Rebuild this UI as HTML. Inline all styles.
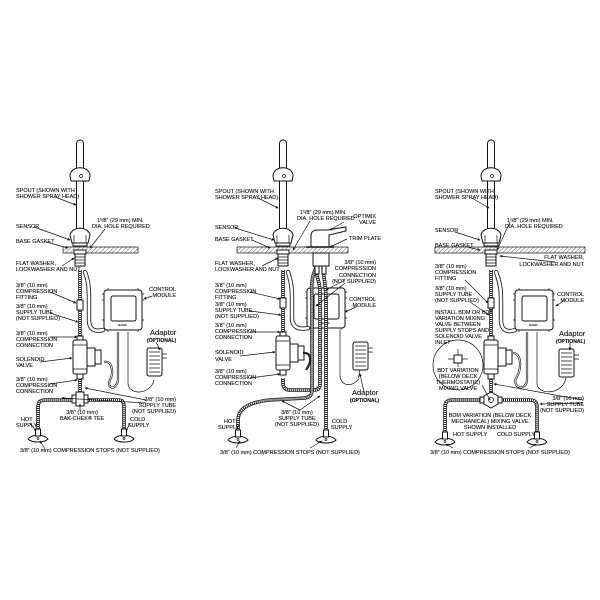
<!DOCTYPE html>
<html><head><meta charset="utf-8"><style>
html,body{margin:0;padding:0;background:#fff;}
svg{display:block;}
text{font-family:"Liberation Sans",sans-serif;font-size:5.5px;fill:#111;stroke:#111;stroke-width:0.12;}
.r{text-anchor:end}.m{text-anchor:middle}
.ad{font-size:7.5px}.b{font-weight:bold;font-size:5px}
.ln{stroke:#111;stroke-width:0.7;fill:none}
.pk{stroke:#111;stroke-width:1;fill:#fff}
.dt{stroke:#222;stroke-width:3.6;fill:none}
.dti{stroke:#fff;stroke-width:2;fill:none;stroke-dasharray:1 1}
.cb{stroke:#222;stroke-width:4.4;fill:none;stroke-linecap:round}
.cbi{stroke:#fff;stroke-width:2.6;fill:none;stroke-linecap:round}
.wr{stroke:#222;stroke-width:2.2;fill:none}
.wri{stroke:#fff;stroke-width:0.8;fill:none}
</style></head><body>
<svg width="600" height="600" viewBox="0 0 600 600" xmlns="http://www.w3.org/2000/svg">
<defs>
<pattern id="h" width="3" height="3" patternUnits="userSpaceOnUse" patternTransform="rotate(45)"><line x1="0" y1="0" x2="0" y2="3" stroke="#222" stroke-width="0.7"/></pattern>
<marker id="a" viewBox="0 0 6 6" refX="5" refY="3" markerWidth="4" markerHeight="4" orient="auto"><path d="M0,0L6,3L0,6z" fill="#111"/></marker>
<g id="spout">
  <path d="M-3.5,3.5 A3.5,3.5 0 0 1 3.5,3.5 L3.5,92 L-3.5,92z" class="pk"/>
  <path d="M-10,36 C-10,25 10,25 10,36 L9,41 L-9,41z" class="pk"/>
  <circle cx="1" cy="36" r="1.5" class="ln"/>
  <path d="M-8,103 L-10,95 C-8,86 8,86 10,95 L8,103z" class="pk"/>
  <path d="M-6,95 L-6,103 M6,95 L6,103" class="ln"/>
  <rect x="-7" y="103" width="14" height="3" class="pk"/>
  <rect x="-6" y="110" width="12" height="4" class="pk"/>
  <rect x="-5" y="114" width="10" height="12" class="pk"/>
  <path d="M-5,117h10M-5,120h10M-5,123h10" class="ln"/>
</g>
<g id="stop">
  <path d="M-10,2 C-6,-3 6,-3 10,2 C6,6 -6,6 -10,2z" class="pk"/>
  <circle cx="0" cy="1.5" r="1" class="ln"/>
  <rect x="-2.5" y="-8" width="5" height="7" class="pk"/>
</g>
<g id="mod">
  <rect x="0" y="0" width="38" height="40" rx="3" class="pk"/>
  <rect x="7" y="6" width="25" height="25" rx="2" class="pk"/>
  <path d="M0,4 L-2,4 M0,10 L-2,10 M38,4 L40,4 M38,10 L40,10 M0,30 L-2,30 M38,30 L40,30 M4,0 L4,-2 M34,0 L34,-2 M4,40 L4,42 M34,40 L34,42" class="ln"/>
  <text x="14" y="36" style="font-size:2.5px">SLOAN</text>
</g>
<g id="adp">
  <rect x="0" y="0" width="15" height="28" rx="2" class="pk"/>
  <path d="M2,4h11M2,8h11M2,12h11M2,16h11M2,20h11M2,24h11" class="ln" stroke-width="0.3"/>
  <path d="M15,6h5M15,10h5" class="ln"/>
</g>
<g id="sol">
  <rect x="-7" y="0" width="14" height="34" rx="2" class="pk"/>
  <path d="M-7,5h14M-7,29h14" class="ln"/>
  <rect x="7" y="8" width="8" height="18" class="pk"/>
  <rect x="15" y="10" width="6" height="14" class="pk"/>
  <rect x="-3" y="-4" width="6" height="4" class="pk"/>
  <rect x="-3" y="34" width="6" height="5" class="pk"/>
</g>
</defs>

<!-- ================= PANEL 1 ================= -->
<rect x="63" y="247" width="75" height="6" fill="url(#h)" stroke="#111" stroke-width="0.7"/>
<path d="M85,272 C88,280 89,285 89,300 L89,320 C89,330 95,332 103,330" class="cb"/>
<path d="M85,272 C88,280 89,285 89,300 L89,320 C89,330 95,332 103,330" class="cbi"/>
<line x1="80" y1="270" x2="80" y2="340" class="dt"/><line x1="80" y1="270" x2="80" y2="340" class="dti"/>
<line x1="80" y1="378" x2="80" y2="396" class="dt"/><line x1="80" y1="378" x2="80" y2="396" class="dti"/>
<rect x="77" y="300" width="6" height="10" class="pk"/>
<use href="#spout" x="80" y="140"/>
<use href="#mod" x="104" y="290"/>
<path d="M104,362 C112,360 114,372 110,380 C106,388 116,392 118,380 L118,332" class="wr"/>
<path d="M104,362 C112,360 114,372 110,380 C106,388 116,392 118,380 L118,332" class="wri"/>
<path d="M128,332 L128,383 C128,395 150,396 154,380" class="ln"/>
<use href="#sol" x="80" y="340"/>
<use href="#adp" x="147" y="348"/>
<path d="M38,430 L38,408 C38,402 40,400 45,400 L72,400 M88,400 L118,400 C123,400 124,402 124,408 L124,430" class="dt"/>
<path d="M38,430 L38,408 C38,402 40,400 45,400 L72,400 M88,400 L118,400 C123,400 124,402 124,408 L124,430" class="dti"/>
<rect x="72" y="395" width="16" height="8" class="pk"/>
<rect x="76" y="392" width="8" height="14" class="pk"/>
<use href="#stop" x="38" y="437"/><use href="#stop" x="124" y="437"/>
<g class="ln" marker-end="url(#a)">
<path d="M55,197 L76,205"/><path d="M34,227 L70,240"/><path d="M46,242 L68,248"/>
<path d="M105,229 L90,248"/><path d="M62,266 L74,258"/><path d="M50,292 L76,303"/>
<path d="M50,313 L78,322"/><path d="M50,337 L77,337"/><path d="M40,362 L72,358"/>
<path d="M50,384 L77,380"/><path d="M146,400 L85,388"/><path d="M146,403 L62,398"/>
<path d="M152,296 L144,299"/><path d="M156,342 L160,350"/><path d="M80,410 L80,404"/>
<path d="M30,423 L36,431"/><path d="M130,423 L126,431"/><path d="M45,449 L40,441"/>
</g>
<text x="16" y="192">SPOUT (SHOWN WITH</text><text x="16" y="198">SHOWER SPRAY HEAD)</text>
<text x="97" y="222">1¹/8" (29 mm) MIN.</text><text x="92" y="228">DIA. HOLE REQUIRED</text>
<text x="16" y="228">SENSOR</text><text x="16" y="243">BASE GASKET</text>
<text x="16" y="265">FLAT WASHER,</text><text x="16" y="271">LOCKWASHER AND NUT</text>
<text x="16" y="287">3/8" (10 mm)</text><text x="16" y="293">COMPRESSION</text><text x="16" y="299">FITTING</text>
<text x="16" y="308">3/8" (10 mm)</text><text x="16" y="314">SUPPLY TUBE</text><text x="16" y="320">(NOT SUPPLIED)</text>
<text x="16" y="335">3/8" (10 mm)</text><text x="16" y="341">COMPRESSION</text><text x="16" y="347">CONNECTION</text>
<text x="16" y="361">SOLENOID</text><text x="16" y="367">VALVE</text>
<text x="16" y="381">3/8" (10 mm)</text><text x="16" y="387">COMPRESSION</text><text x="16" y="393">CONNECTION</text>
<text class="r" x="176" y="291">CONTROL</text><text class="r" x="176" y="297">MODULE</text>
<text class="ad" x="150" y="335">Adaptor</text><text class="b" x="147" y="342">(OPTIONAL)</text>
<text class="r" x="176" y="401">3/8" (10 mm)</text><text class="r" x="176" y="407">SUPPLY TUBE</text><text class="r" x="176" y="413">(NOT SUPPLIED)</text>
<text class="m" x="82" y="414">3/8" (10 mm)</text><text class="m" x="82" y="420">BAK-CHEK® TEE</text>
<text x="21" y="421">HOT</text><text x="16" y="427">SUPPLY</text>
<text x="130" y="421">COLD</text><text x="128" y="427">SUPPLY</text>
<text x="20" y="452">3/8" (10 mm) COMPRESSION STOPS (NOT SUPPLIED)</text>

<!-- ================= PANEL 2 ================= -->
<rect x="237" y="247" width="111" height="6" fill="url(#h)" stroke="#111" stroke-width="0.7"/>
<use href="#mod" x="307" y="288"/>
<path d="M288,272 C292,285 292,290 292,300 L292,318 C292,328 300,330 308,328" class="cb"/>
<path d="M288,272 C292,285 292,290 292,300 L292,318 C292,328 300,330 308,328" class="cbi"/>
<line x1="283" y1="270" x2="283" y2="333" class="dt"/><line x1="283" y1="270" x2="283" y2="333" class="dti"/>
<rect x="280" y="298" width="6" height="10" class="pk"/>
<path d="M283,378 L283,383 C283,388 286,390 290,390 L314,390 C318,390 320,388 320,384 L320,290 C320,282 315,275 316,265" class="dt"/>
<path d="M283,378 L283,383 C283,388 286,390 290,390 L314,390 C318,390 320,388 320,384 L320,290 C320,282 315,275 316,265" class="dti"/>
<path d="M238,430 L238,420 C238,408 250,402 270,400 L305,398 C310,397 312,395 312,390 L312,300 C312,290 310,280 316,268" class="dt"/>
<path d="M238,430 L238,420 C238,408 250,402 270,400 L305,398 C310,397 312,395 312,390 L312,300 C312,290 310,280 316,268" class="dti"/>
<path d="M326,430 L326,300 C326,285 323,275 323,265" class="dt"/>
<path d="M326,430 L326,300 C326,285 323,275 323,265" class="dti"/>
<rect x="313" y="253" width="16" height="13" class="pk"/>
<rect x="315" y="266" width="4" height="8" class="pk"/><rect x="322" y="266" width="4" height="8" class="pk"/>
<path d="M311,247 L311,236 C311,231 314,230 319,230 L327,230 L346,227 L346,231 L329,235 L329,247z" class="pk"/>
<path d="M306,247h28" stroke="#111" stroke-width="1.6"/>
<use href="#spout" x="283" y="140"/>
<use href="#sol" x="283" y="336"/>
<path d="M303,353 C312,352 312,362 306,370" class="wr"/>
<path d="M340,330 L340,375 C340,385 350,388 358,380 L360,370" class="ln"/>
<use href="#adp" x="353" y="342"/>
<use href="#stop" x="238" y="438"/><use href="#stop" x="326" y="438"/>
<g class="ln" marker-end="url(#a)">
<path d="M258,198 L278,208"/><path d="M235,228 L274,240"/><path d="M252,240 L270,248"/>
<path d="M310,221 L293,250"/><path d="M344,222 L330,230"/><path d="M347,239 L330,247"/>
<path d="M262,266 L278,258"/><path d="M250,292 L280,299"/><path d="M250,311 L281,315"/>
<path d="M250,332 L280,332"/><path d="M240,356 L275,352"/><path d="M250,378 L280,374"/>
<path d="M345,280 L326,290"/><path d="M345,283 L316,306"/><path d="M356,307 L345,312"/>
<path d="M364,392 L360,374"/><path d="M300,410 L320,396"/><path d="M300,410 L282,401"/>
<path d="M236,448 L240,441"/><path d="M310,448 L322,441"/>
</g>
<text x="215" y="193">SPOUT (SHOWN WITH</text><text x="215" y="199">SHOWER SPRAY HEAD)</text>
<text x="300" y="214">1¹/8" (29 mm) MIN.</text><text x="297" y="220">DIA. HOLE REQUIRED</text>
<text class="r" x="376" y="218">OPTIMIX</text><text class="r" x="376" y="224">VALVE</text>
<text x="215" y="229">SENSOR</text><text x="215" y="241">BASE GASKET</text>
<text x="349" y="240">TRIM PLATE</text>
<text x="215" y="265">FLAT WASHER,</text><text x="215" y="271">LOCKWASHER AND NUT</text>
<text class="r" x="376" y="264">3/8" (10 mm)</text><text class="r" x="376" y="270">COMPRESSION</text><text class="r" x="376" y="277">CONNECTION</text><text class="r" x="376" y="283">(NOT SUPPLIED)</text>
<text x="215" y="287">3/8" (10 mm)</text><text x="215" y="293">COMPRESSION</text><text x="215" y="299">FITTING</text>
<text class="r" x="376" y="301">CONTROL</text><text class="r" x="376" y="307">MODULE</text>
<text x="215" y="306">3/8" (10 mm)</text><text x="215" y="312">SUPPLY TUBE</text><text x="215" y="318">(NOT SUPPLIED)</text>
<text x="215" y="327">3/8" (10 mm)</text><text x="215" y="333">COMPRESSION</text><text x="215" y="339">CONNECTION</text>
<text x="215" y="354">SOLENOID</text><text x="215" y="361">VALVE</text>
<text x="215" y="373">3/8" (10 mm)</text><text x="215" y="379">COMPRESSION</text><text x="215" y="385">CONNECTION</text>
<text class="ad" x="352" y="395">Adaptor</text><text class="b" x="350" y="402">(OPTIONAL)</text>
<text class="m" x="297" y="414">3/8" (10 mm)</text><text class="m" x="297" y="420">SUPPLY TUBE</text><text class="m" x="297" y="426">(NOT SUPPLIED)</text>
<text x="224" y="423">HOT</text><text x="218" y="429">SUPPLY</text>
<text x="332" y="423">COLD</text><text x="331" y="429">SUPPLY</text>
<text x="220" y="454">3/8" (10 mm) COMPRESSION STOPS (NOT SUPPLIED)</text>

<!-- ================= PANEL 3 ================= -->
<rect x="435" y="247" width="150" height="6" fill="url(#h)" stroke="#111" stroke-width="0.7"/>
<path d="M496,272 C500,282 501,290 501,300 L501,320 C501,330 507,333 515,330" class="cb"/>
<path d="M496,272 C500,282 501,290 501,300 L501,320 C501,330 507,333 515,330" class="cbi"/>
<line x1="491" y1="270" x2="491" y2="336" class="dt"/><line x1="491" y1="270" x2="491" y2="336" class="dti"/>
<line x1="491" y1="376" x2="491" y2="394" class="dt"/><line x1="491" y1="376" x2="491" y2="394" class="dti"/>
<rect x="488" y="298" width="6" height="10" class="pk"/>
<use href="#spout" x="491" y="140"/>
<use href="#mod" x="515" y="290"/>
<use href="#sol" x="491" y="340"/>
<path d="M512,353 C522,352 522,370 516,378 C512,388 526,392 527,380 L527,332" class="wr"/>
<path d="M512,353 C522,352 522,370 516,378 C512,388 526,392 527,380 L527,332" class="wri"/>
<path d="M537,332 L537,383 C537,395 562,396 566,378" class="ln"/>
<use href="#adp" x="559" y="349"/>
<path d="M445,432 L445,408 C445,402 447,400 452,400 L480,400 M502,400 L530,400 C535,400 537,402 537,408 L537,432" class="dt"/>
<path d="M445,432 L445,408 C445,402 447,400 452,400 L480,400 M502,400 L530,400 C535,400 537,402 537,408 L537,432" class="dti"/>
<path d="M484,396 L491,392 L498,396 L498,404 L491,408 L484,404z" class="pk"/>
<rect x="480" y="397" width="4" height="6" class="pk"/><rect x="498" y="397" width="4" height="6" class="pk"/>
<circle cx="491" cy="400" r="2.5" class="ln"/>
<circle cx="458" cy="365" r="25" class="ln" stroke-width="0.8"/>
<rect x="454" y="355" width="8" height="8" class="pk"/>
<path d="M448,359h6M462,359h6M458,349v6M458,363v4" class="ln"/>
<use href="#stop" x="445" y="440"/><use href="#stop" x="537" y="440"/>
<g class="ln" marker-end="url(#a)">
<path d="M472,198 L489,208"/><path d="M455,232 L480,240"/><path d="M467,247 L480,250"/>
<path d="M510,222 L497,250"/><path d="M555,262 L500,256"/><path d="M465,280 L488,303"/>
<path d="M470,302 L489,315"/><path d="M482,385 L490,400"/><path d="M583,400 L494,384"/>
<path d="M565,300 L556,306"/><path d="M570,343 L570,350"/><path d="M583,403 L540,404"/>
<path d="M453,448 L446,444"/><path d="M530,448 L536,444"/>
</g>
<text x="435" y="193">SPOUT (SHOWN WITH</text><text x="435" y="199">SHOWER SPRAY HEAD)</text>
<text x="507" y="222">1¹/8" (29 mm) MIN.</text><text x="505" y="228">DIA. HOLE REQUIRED</text>
<text x="435" y="232">SENSOR</text><text x="435" y="247">BASE GASKET</text>
<text class="r" x="584" y="259">FLAT WASHER,</text><text class="r" x="584" y="266">LOCKWASHER AND NUT</text>
<text x="435" y="268">3/8" (10 mm)</text><text x="435" y="274">COMPRESSION</text><text x="435" y="280">FITTING</text>
<text x="435" y="290">3/8" (10 mm)</text><text x="435" y="296">SUPPLY TUBE</text><text x="435" y="302">(NOT SUPPLIED)</text>
<text x="435" y="314">INSTALL BDM OR BDT</text><text x="435" y="320">VARIATION MIXING</text><text x="435" y="326">VALVE BETWEEN</text><text x="435" y="332">SUPPLY STOPS AND</text><text x="435" y="338">SOLENOID VALVE</text><text x="435" y="344">INLET</text>
<text class="r" x="584" y="296">CONTROL</text><text class="r" x="584" y="302">MODULE</text>
<text class="ad" x="559" y="336">Adaptor</text><text class="b" x="556" y="343">(OPTIONAL)</text>
<text class="m" x="458" y="372">BDT VARIATION</text><text class="m" x="458" y="378">(BELOW DECK</text><text class="m" x="458" y="384">THERMOSTATIC)</text><text class="m" x="458" y="390">MIXING VALVE</text>
<text class="r" x="584" y="400">3/8" (10 mm)</text><text class="r" x="584" y="406">SUPPLY TUBE</text><text class="r" x="584" y="412">(NOT SUPPLIED)</text>
<text class="m" x="490" y="417">BDM VARIATION (BELOW DECK</text><text class="m" x="490" y="423">MECHANICAL) MIXING VALVE</text><text class="m" x="490" y="429">SHOWN INSTALLED</text>
<text x="453" y="436">HOT SUPPLY</text><text x="497" y="436">COLD SUPPLY</text>
<text x="430" y="454">3/8" (10 mm) COMPRESSION STOPS (NOT SUPPLIED)</text>
</svg>
</body></html>
